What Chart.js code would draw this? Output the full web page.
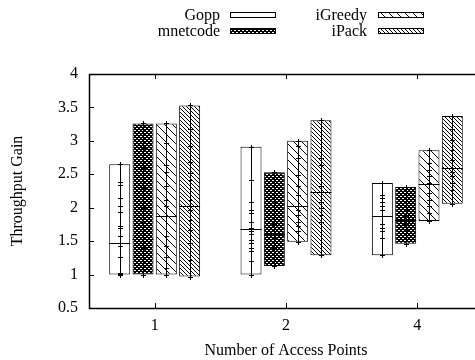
<!DOCTYPE html>
<html>
<head>
<meta charset="utf-8">
<script src="https://cdn.jsdelivr.net/npm/chart.js@4/dist/chart.umd.min.js"></script>
<style>
  html, body { margin: 0; padding: 0; overflow: hidden; background: #fff; }
  #chart { display: block; }
</style>
</head>
<body>
<canvas id="chart" width="500" height="360"></canvas>
<script>
(function () {
    'use strict';

    // categories and ticks
    const accessPoints = ['1', '2', '4'];
    const yTicks = [0.5, 1, 1.5, 2, 2.5, 3, 3.5, 4];
    const seriesNames = ['Gopp', 'mnetcode', 'iGreedy', 'iPack'];

    // box extents (min / max) and medians, one value per access-point count
    const goppLow = [1.0, 1.0, 1.29];
    const goppHigh = [2.65, 2.91, 2.37];
    const goppMedian = [1.47, 1.68, 1.88];

    const mnetcodeLow = [1.0, 1.13, 1.46];
    const mnetcodeHigh = [3.26, 2.53, 2.31];
    const mnetcodeMedian = [1.53, 1.60, 1.81];

    const iGreedyLow = [1.0, 1.49, 1.80];
    const iGreedyHigh = [3.26, 3.0, 2.86];
    const iGreedyMedian = [1.88, 2.03, 2.36];

    const iPackLow = [0.97, 1.29, 2.06];
    const iPackHigh = [3.53, 3.31, 3.37];
    const iPackMedian = [2.02, 2.24, 2.60];

    // individual runs, plotted as crosses
    const goppSamples = [
        [1.0, 1.01, 1.02, 1.27, 1.42, 1.58, 1.70, 1.73, 1.93, 2.02, 2.15, 2.34, 2.39, 2.65],
        [1.0, 1.20, 1.35, 1.40, 1.47, 1.52, 1.60, 1.65, 1.70, 1.79, 1.92, 1.97, 2.09, 2.42, 2.91],
        [1.29, 1.55, 1.65, 1.70, 1.75, 1.97, 2.02, 2.09, 2.14, 2.19, 2.37]
    ];
    const mnetcodeSamples = [
        [1.0, 1.05, 1.20, 1.40, 1.53, 1.78, 2.0, 2.30, 2.60, 2.90, 3.26],
        [1.13, 1.40, 1.50, 1.55, 1.60, 1.65, 1.75, 1.89, 2.09, 2.53],
        [1.46, 1.62, 1.67, 1.75, 1.82, 1.87, 1.97, 2.31]
    ];
    const iGreedySamples = [
        [1.0, 1.10, 1.27, 1.42, 1.57, 2.02, 2.12, 2.32, 2.54, 2.64, 2.97, 3.26],
        [1.49, 1.65, 1.72, 1.79, 1.89, 1.97, 2.19, 2.32, 2.49, 2.74, 2.92, 3.0],
        [1.80, 1.92, 2.02, 2.12, 2.22, 2.37, 2.47, 2.57, 2.67, 2.86]
    ];
    const iPackSamples = [
        [0.97, 1.22, 1.47, 1.67, 1.82, 1.97, 2.12, 2.42, 2.52, 2.69, 2.92, 3.17, 3.53],
        [1.29, 1.79, 1.89, 1.99, 2.09, 2.32, 2.64, 2.74, 3.31],
        [2.06, 2.27, 2.37, 2.47, 2.54, 2.72, 2.87, 3.02, 3.17, 3.37]
    ];

    const lows = [goppLow, mnetcodeLow, iGreedyLow, iPackLow];
    const highs = [goppHigh, mnetcodeHigh, iGreedyHigh, iPackHigh];
    const medians = [goppMedian, mnetcodeMedian, iGreedyMedian, iPackMedian];
    const samples = [goppSamples, mnetcodeSamples, iGreedySamples, iPackSamples];

    const FONT = 'Liberation Serif, Times New Roman, serif';

    function makeTile(size, draw) {
        const c = document.createElement('canvas');
        c.width = size;
        c.height = size;
        const g = c.getContext('2d');
        g.fillStyle = '#fff';
        g.fillRect(0, 0, size, size);
        draw(g, size);
        return document.getElementById('chart').getContext('2d').createPattern(c, 'repeat');
    }

    function diagonal(g, size) {
        g.strokeStyle = '#000';
        g.lineWidth = 1;
        for (let k = -size; k <= size; k += size) {
            g.beginPath();
            g.moveTo(k - 1, -1);
            g.lineTo(k + size + 1, size + 1);
            g.stroke();
        }
    }

    const fills = [
        '#fff',
        makeTile(4, function (g) {
            // dark checker with small white dots
            g.fillStyle = '#000';
            g.fillRect(0, 0, 4, 4);
            g.fillStyle = '#fff';
            g.fillRect(0, 0, 2, 1);
            g.fillRect(2, 2, 2, 1);
        }),
        makeTile(8, diagonal),
        makeTile(4, diagonal)
    ];

    const legendBox = {
        id: 'legendBox',
        afterDraw(chart) {
            const ctx = chart.ctx;
            const cols = [{ textRight: 220, boxLeft: 230 }, { textRight: 367, boxLeft: 378 }];
            const rows = [15, 31];
            ctx.save();
            ctx.font = '16px ' + FONT;
            ctx.fillStyle = '#000';
            ctx.textAlign = 'right';
            ctx.textBaseline = 'middle';
            seriesNames.forEach((name, i) => {
                const col = cols[Math.floor(i / 2)];
                const y = rows[i % 2];
                ctx.fillText(name, col.textRight, y + 1);
                ctx.fillStyle = fills[i];
                ctx.fillRect(col.boxLeft, y - 3, 45, 6);
                ctx.strokeStyle = '#000';
                ctx.lineWidth = 1;
                ctx.strokeRect(col.boxLeft + 0.5, y - 2.5, 45, 5);
                ctx.fillStyle = '#000';
            });
            ctx.restore();
        }
    };

    const boxMarks = {
        id: 'boxMarks',
        afterDatasetsDraw(chart) {
            const ctx = chart.ctx;
            const yScale = chart.scales.y;
            ctx.save();
            ctx.strokeStyle = '#000';
            ctx.lineWidth = 1;
            chart.data.datasets.forEach((ds, i) => {
                chart.getDatasetMeta(i).data.forEach((bar, j) => {
                    const x = Math.round(bar.x) + 0.5;
                    const half = bar.width / 2;
                    ctx.beginPath();
                    ctx.moveTo(x, yScale.getPixelForValue(lows[i][j]));
                    ctx.lineTo(x, yScale.getPixelForValue(highs[i][j]));
                    const ym = Math.round(yScale.getPixelForValue(medians[i][j])) + 0.5;
                    ctx.moveTo(bar.x - half, ym);
                    ctx.lineTo(bar.x + half, ym);
                    samples[i][j].forEach(v => {
                        const yp = Math.round(yScale.getPixelForValue(v)) + 0.5;
                        ctx.moveTo(x - 2.5, yp);
                        ctx.lineTo(x + 2.5, yp);
                        ctx.moveTo(x, yp - 2.5);
                        ctx.lineTo(x, yp + 2.5);
                    });
                    ctx.stroke();
                });
            });
            ctx.restore();
        }
    };

    const frame = {
        id: 'frame',
        afterDraw(chart) {
            const ctx = chart.ctx;
            const a = chart.chartArea;
            const xScale = chart.scales.x;
            const yScale = chart.scales.y;
            ctx.save();
            ctx.strokeStyle = '#000';
            ctx.lineWidth = 1;
            ctx.beginPath();
            yScale.ticks.forEach(t => {
                const y = Math.round(yScale.getPixelForValue(t.value)) + 0.5;
                ctx.moveTo(a.left, y);
                ctx.lineTo(a.left + 5, y);
                ctx.moveTo(a.right, y);
                ctx.lineTo(a.right - 5, y);
            });
            accessPoints.forEach((_, j) => {
                const x = Math.round(xScale.getPixelForValue(j)) + 0.5;
                ctx.moveTo(x, a.bottom);
                ctx.lineTo(x, a.bottom - 5);
                ctx.moveTo(x, a.top);
                ctx.lineTo(x, a.top + 5);
            });
            ctx.stroke();
            ctx.lineWidth = 1.5;
            ctx.strokeRect(Math.round(a.left) + 0.5, Math.round(a.top) + 0.5,
                Math.round(a.right - a.left), Math.round(a.bottom - a.top));
            ctx.restore();
        }
    };

    const datasets = seriesNames.map((name, i) => ({
        label: name,
        data: accessPoints.map((_, j) => [lows[i][j], highs[i][j]]),
        backgroundColor: fills[i],
        borderColor: '#000',
        borderWidth: 1,
        borderSkipped: false,
        categoryPercentage: 0.71,
        barPercentage: 0.9
    }));

    new Chart(document.getElementById('chart'), {
        type: 'bar',
        data: { labels: accessPoints, datasets: datasets },
        options: {
            responsive: false,
            animation: false,
            devicePixelRatio: 1,
            layout: { padding: { top: 74, right: 17, left: 0, bottom: 0 } },
            plugins: {
                legend: { display: false },
                tooltip: { enabled: false }
            },
            scales: {
                x: {
                    grid: { display: false, drawTicks: false },
                    border: { display: false },
                    afterFit: s => { s.height = 52; },
                    ticks: { color: '#000', padding: 8, font: { family: FONT, size: 16 } },
                    title: {
                        display: true,
                        text: 'Number of Access Points',
                        color: '#000',
                        padding: { top: 0, bottom: 0 },
                        font: { family: FONT, size: 16 }
                    }
                },
                y: {
                    min: 0.5,
                    max: 4,
                    grid: { display: false, drawTicks: false },
                    border: { display: false },
                    afterFit: s => { s.width = 89; },
                    afterBuildTicks: s => { s.ticks = yTicks.map(v => ({ value: v })); },
                    ticks: {
                        color: '#000',
                        padding: 11,
                        font: { family: FONT, size: 16 },
                        callback: v => String(v)
                    },
                    title: {
                        display: true,
                        text: 'Throughput Gain',
                        color: '#000',
                        padding: { top: 8, bottom: 0 },
                        font: { family: FONT, size: 16 }
                    }
                }
            }
        },
        plugins: [boxMarks, frame, legendBox]
    });
})();
</script>
</body>
</html>
